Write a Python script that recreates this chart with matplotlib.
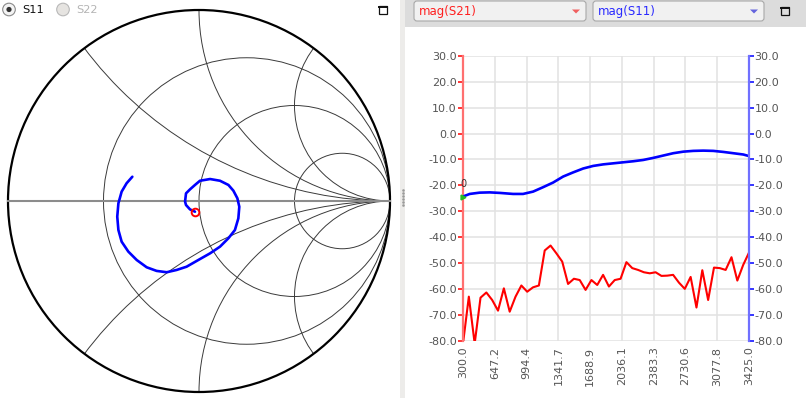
import matplotlib.pyplot as plt
import numpy as np
from matplotlib.patches import Circle, Rectangle, FancyBboxPatch, Polygon

plt.rcParams['axes.unicode_minus'] = False
plt.rcParams['font.family'] = 'DejaVu Sans'

# --- sweep / data ---
freq_start = 300.0
freq_stop = 3425.0
n_points = 50
freq = np.linspace(freq_start, freq_stop, n_points)

s21_db = [-81.0, -62.9, -81.0, -63.3, -61.3, -64.2, -68.3, -59.7, -68.7, -62.9,
          -58.6, -61.0, -59.3, -58.6, -45.1, -43.2, -46.2, -49.4, -58.0, -56.0,
          -56.5, -60.3, -56.5, -58.4, -54.5, -59.0, -56.5, -56.0, -49.6, -51.9,
          -52.6, -53.5, -53.9, -53.5, -54.9, -54.8, -54.5, -57.5, -59.9, -55.3,
          -67.1, -52.7, -64.2, -51.7, -51.9, -52.6, -47.7, -56.7, -50.7, -45.9]

s11_freq = [300, 373, 482, 592, 701, 847, 956, 1066, 1175, 1285,
            1394, 1503, 1613, 1722, 1832, 1941, 2050, 2160, 2269, 2379,
            2488, 2597, 2707, 2816, 2925, 3035, 3144, 3254, 3363, 3425]
s11_db = [-24.3, -23.3, -22.8, -22.7, -22.9, -23.3, -23.3, -22.4, -20.7, -18.9,
          -16.6, -15.0, -13.5, -12.5, -11.9, -11.5, -11.1, -10.7, -10.2, -9.4,
          -8.5, -7.6, -7.0, -6.7, -6.6, -6.7, -7.1, -7.6, -8.1, -8.7]

# S11 on the Smith chart (reflection coefficient, real / imag)
s11_re = [-0.021, -0.047, -0.068, -0.073, -0.068, -0.047, -0.021, 0.005, 0.058, 0.110,
          0.154, 0.180, 0.201, 0.211, 0.206, 0.188, 0.154, 0.110, 0.058, 0.005,
          -0.065, -0.117, -0.169, -0.222, -0.274, -0.326, -0.370, -0.405, -0.422, -0.428,
          -0.422, -0.405, -0.379, -0.349]
s11_im = [-0.056, -0.044, -0.021, -0.003, 0.040, 0.061, 0.084, 0.106, 0.115, 0.106,
          0.084, 0.054, 0.014, -0.030, -0.091, -0.152, -0.195, -0.239, -0.274, -0.304,
          -0.344, -0.361, -0.373, -0.366, -0.347, -0.309, -0.265, -0.213, -0.152, -0.082,
          -0.012, 0.049, 0.093, 0.127]

resistances = [1 / 3, 1.0, 3.0]
reactances = [0.5, 1.0, 2.0]

y_ticks = list(range(-80, 31, 10))
x_ticks = np.linspace(freq_start, freq_stop, 10)

W, H = 806, 398
fig = plt.figure(figsize=(W / 100, H / 100), dpi=100)

# --- window decoration (pixel coords) ---
bg = fig.add_axes([0, 0, 1, 1])
bg.set_xlim(0, W)
bg.set_ylim(H, 0)
bg.axis('off')

bg.add_patch(Rectangle((400, 0), 5, H, color='#edecea', lw=0))
for yy in range(190, 208, 3):
    bg.plot(403, yy, 's', ms=0.8, color='#9a9a9a')
bg.add_patch(Rectangle((405, 0), W - 405, 27, color='#dcdcdc', lw=0))

# radio buttons
bg.add_patch(Circle((9, 9.5), 6.3, fc='#f4f4f4', ec='#8a8a8a', lw=0.8))
bg.add_patch(Circle((9, 9.5), 2.6, fc='#333333', lw=0))
bg.text(22, 10, 'S11', fontsize=8.2, va='center', ha='left', color='#111111')
bg.add_patch(Circle((63, 9.5), 6.3, fc='#e6e4e1', ec='#b8b8b8', lw=0.8))
bg.text(76, 10, 'S22', fontsize=8.2, va='center', ha='left', color='#b4b4b4')

# combo boxes
combos = [(414, 586, 'mag(S21)', '#ff2020', '#f06060'),
          (593, 764, 'mag(S11)', '#2a2aff', '#6464dd')]
for x0, x1, label, tc, ac in combos:
    bg.add_patch(FancyBboxPatch((x0, 1), x1 - x0, 20, boxstyle='round,pad=0,rounding_size=3',
                                fc='#f1f1f1', ec='#a8a8a8', lw=0.8))
    bg.text(x0 + 5, 11.5, label, fontsize=8.5, va='center', ha='left', color=tc)
    ax_c = x1 - 10
    bg.add_patch(Polygon([(ax_c - 4, 9.5), (ax_c + 4, 9.5), (ax_c, 13.5)], closed=True, color=ac, lw=0))

# maximize icons
for cx, cy in [(383, 10), (785, 11)]:
    bg.add_patch(Rectangle((cx - 4, cy - 4), 8, 8, fc='none', ec='#111111', lw=0.9))
    bg.plot([cx - 4, cx + 4], [cy - 3.3, cy - 3.3], color='#111111', lw=1.4)

# --- Smith chart ---
R_PX = 191.0
ax_s = fig.add_axes([0, 0, 400 / W, 1])
ax_s.set_xlim(-199 / R_PX, 201 / R_PX)
ax_s.set_ylim(-197 / R_PX, 201 / R_PX)
ax_s.axis('off')

unit = Circle((0, 0), 1.0, fc='none', ec='none')
ax_s.add_patch(unit)
for r in resistances:
    ax_s.add_patch(Circle((r / (1 + r), 0), 1 / (1 + r), fc='none', ec='#3a3a3a', lw=0.7))
for x in reactances:
    for sgn in (1, -1):
        c = Circle((1, sgn / x), 1 / x, fc='none', ec='#3a3a3a', lw=0.7)
        ax_s.add_patch(c)
        c.set_clip_path(unit)
ax_s.plot([-1, 1], [0, 0], color='#8c8c8c', lw=1.5)
ax_s.add_patch(Circle((0, 0), 1.0, fc='none', ec='black', lw=1.6))

ax_s.plot(s11_re, s11_im, color='#0000ff', lw=1.9, solid_capstyle='round', solid_joinstyle='round')
ax_s.plot(s11_re[0], s11_im[0], 'o', mfc='none', mec='#ff0000', ms=5.5, mew=1.4)

# --- magnitude plot ---
ax = fig.add_axes([463 / W, (H - 341) / H, 286 / W, 285.3 / H])
ax2 = ax.twinx()

ax.set_xlim(freq_start, freq_stop)
ax.set_ylim(-80, 30)
ax2.set_ylim(-80, 30)

ax.plot(freq, s21_db, color='#ff0000', lw=1.5)
ax2.plot(s11_freq, s11_db, color='#0000ff', lw=1.9)
ax2.plot(s11_freq[0], s11_db[0], marker='>', color='#22bb22', ms=3.5, clip_on=False, zorder=5)
ax2.text(freq_start, -19.6, '0', ha='center', va='center', fontsize=7, color='#333333', zorder=1)

ax.set_xticks(x_ticks, ['%.1f' % v for v in x_ticks])
ax.set_yticks(y_ticks, ['%.1f' % v for v in y_ticks])
ax2.set_yticks(y_ticks, ['%.1f' % v for v in y_ticks])

ax.grid(True, color='#e2e2e2', lw=1.1)
ax.set_axisbelow(True)
ax.tick_params(axis='x', length=0, pad=4, labelrotation=90, labelsize=8, labelcolor='#555555')
ax.tick_params(axis='y', length=3.5, width=1.1, color='#ff0000', pad=1, labelsize=8, labelcolor='#555555')
ax2.tick_params(axis='y', length=3.5, width=1.1, color='#0000ff', pad=0.5, labelsize=8, labelcolor='#555555')

for s in ['top', 'bottom', 'right']:
    ax.spines[s].set_visible(False)
for s in ['top', 'bottom', 'left']:
    ax2.spines[s].set_visible(False)
ax.spines['left'].set_color('#ff7070')
ax.spines['left'].set_linewidth(1.6)
ax2.spines['right'].set_color('#7070ff')
ax2.spines['right'].set_linewidth(1.6)

fig.savefig('out.png', dpi=100)
